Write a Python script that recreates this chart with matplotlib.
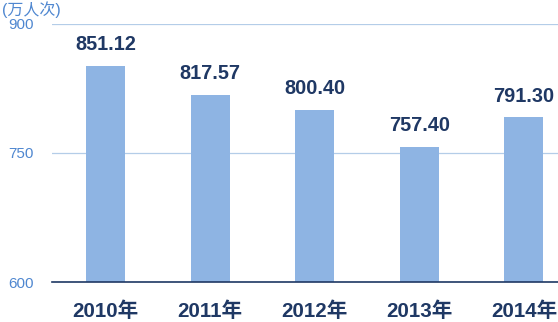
import matplotlib
matplotlib.use("Agg")
import matplotlib.pyplot as plt

years = ["2010年", "2011年", "2012年", "2013年", "2014年"]
visitors = [851.12, 817.57, 800.40, 757.40, 791.30]
y_ticks = [600, 750, 900]

BAR_COLOR = "#8eb4e3"
TEXT_COLOR = "#1f3864"
TICK_COLOR = "#4f87d0"
GRID_COLOR = "#b4cde8"
FONTS = ["Liberation Sans", "Noto Sans CJK SC", "DejaVu Sans"]

plt.rcParams["font.family"] = FONTS

fig = plt.figure(figsize=(5.58, 3.22), dpi=100)
ax = fig.add_axes([0.0932, 0.1242, 0.9068, 0.8013])

positions = range(len(years))
ax.bar(positions, visitors, width=0.373, color=BAR_COLOR, zorder=2)

for x, v in zip(positions, visitors):
    ax.annotate(f"{v:.2f}", (x, v), xytext=(0, 8.5), textcoords="offset points",
                ha="center", va="bottom", fontsize=14.3, fontweight="bold",
                color=TEXT_COLOR)

ax.set_xlim(-0.511, 4.326)
ax.set_ylim(600, 900)
ax.set_yticks(y_ticks)
ax.set_yticklabels([str(t) for t in y_ticks], fontsize=11, color=TICK_COLOR)
ax.set_xticks(list(positions))
ax.set_xticklabels(years, fontsize=14.8, fontweight="bold", color=TEXT_COLOR)
ax.tick_params(axis="x", length=0, pad=14)
ax.tick_params(axis="y", length=0, pad=13)

ax.grid(axis="y", color=GRID_COLOR, linewidth=0.9, zorder=0)
for side in ["top", "right", "left"]:
    ax.spines[side].set_visible(False)
ax.spines["bottom"].set_color(TEXT_COLOR)
ax.spines["bottom"].set_linewidth(1.2)
ax.spines["bottom"].set_zorder(3)

fig.text(0.004, 0.997, "(万人次)", fontsize=11.5, color=TICK_COLOR, ha="left", va="top")

fig.savefig("out.png", dpi=100)
